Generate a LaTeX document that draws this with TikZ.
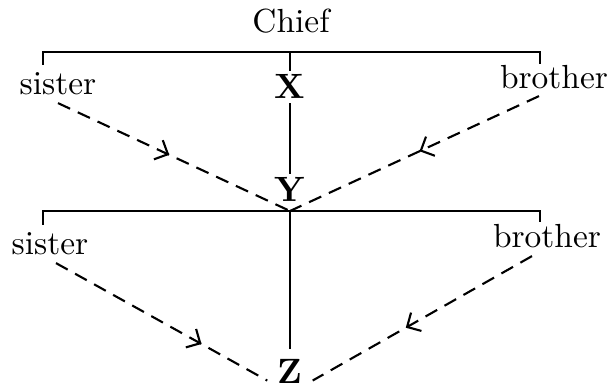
\documentclass[tikz,border=0pt]{standalone}
\usepackage{tikz}
\usetikzlibrary{arrows.meta,decorations.markings}
\tikzset{
  kin/.style={anchor=base,inner sep=2pt,font=\fontsize{9.5}{11}\selectfont},
  gen/.style={anchor=base,inner sep=1pt,font=\fontsize{10}{12}\selectfont\bfseries},
  tie/.style={line width=0.6pt},
  claim/.style={line width=0.6pt,dash pattern=on 3.8pt off 2.4pt,
    postaction={decorate,decoration={markings,
      mark=at position #1 with {\arrow{Straight Barb[length=3pt,width=6pt]}}}}},
}

\begin{document}
\begin{tikzpicture}[x=0.01cm,y=-0.01cm]
\useasboundingbox (0,0) rectangle (608,391);
% Define coordinates
\coordinate (L1) at (43,52);
\coordinate (M1) at (290,52);
\coordinate (R1) at (540,52);
\coordinate (L1t) at (43,65);
\coordinate (R1t) at (540,64);
%
\coordinate (L2) at (43,211);
\coordinate (M2) at (290,211);
\coordinate (R2) at (540,211);
\coordinate (L2t) at (43,225);
\coordinate (R2t) at (540,222);
% Labels
\node[kin] (chief) at (291,32) {Chief};
\node[kin] (sisterA) at (58,95) {sister};
\node[gen] (X) at (290,99) {X};
\node[kin] (brotherA) at (554,88) {brother};
\node[gen] (Y) at (290,202) {Y};
\node[kin] (sisterB) at (50,255) {sister};
\node[kin] (brotherB) at (547,248) {brother};
\node[gen] (Z) at (290,384) {Z};
% Draw top bar
\draw[tie] (L1t) -- (L1) -- (R1) -- (R1t);
\draw[tie] (M1) -- (X.north);
\draw[tie] (X.south) -- (Y.north);
% Draw bottom bar
\draw[tie] (L2t) -- (L2) -- (R2) -- (R2t);
\draw[tie,shorten >=2pt] (M2) -- (Z.north);
% Dashed lines
\draw[claim=0.48] (sisterA.south) -- (M2);
\draw[claim=0.48] ([xshift=-0.15cm]brotherA.south) -- (M2);
\draw[claim=0.67,shorten >=2pt] ([xshift=0.06cm]sisterB.south) -- (Z.base west);
\draw[claim=0.56,shorten >=2pt] ([xshift=-0.15cm]brotherB.south) -- (Z.base east);
\end{tikzpicture}
\end{document}
